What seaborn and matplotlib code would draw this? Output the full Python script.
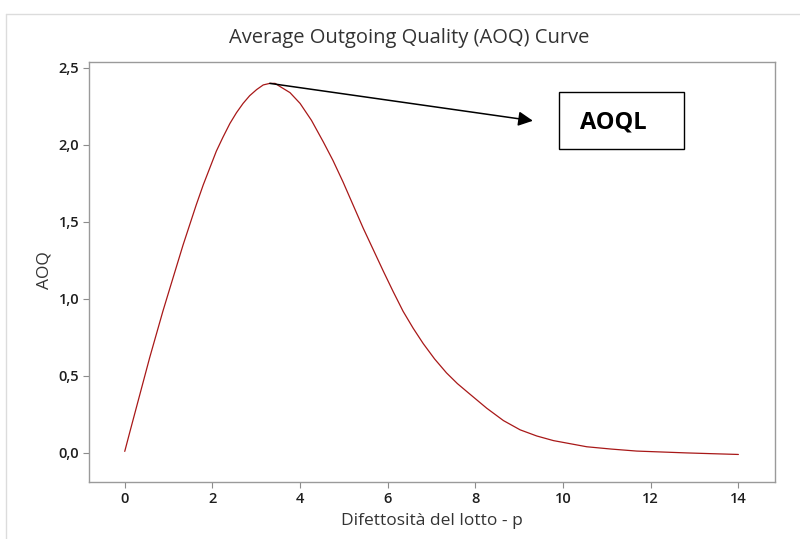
"""Average Outgoing Quality (AOQ) curve with the AOQL marked."""

import matplotlib.pyplot as plt
import matplotlib.ticker as mticker
import pandas as pd
import seaborn as sns
from matplotlib.lines import Line2D
from matplotlib.patches import Rectangle

# Lot defect rate (%) and AOQ
p_values = [0, 0.12, 0.27, 0.42, 0.57, 0.72, 0.87, 1.03, 1.18, 1.33, 1.48, 1.63,
            1.79, 1.94, 2.09, 2.24, 2.40, 2.55, 2.70, 2.85, 3.01, 3.16, 3.31,
            3.43, 3.54, 3.77, 4.0, 4.26, 4.53, 4.75, 4.98, 5.21, 5.44, 5.67,
            5.90, 6.12, 6.35, 6.58, 6.81, 7.07, 7.34, 7.59, 7.84, 8.05, 8.26,
            8.64, 9.02, 9.40, 9.78, 10.16, 10.54, 11.10, 11.68, 12.25, 12.82,
            13.40, 14.0]
aoq_values = [0.01, 0.14, 0.30, 0.46, 0.62, 0.77, 0.92, 1.07, 1.21, 1.35, 1.48, 1.61,
              1.74, 1.85, 1.96, 2.05, 2.14, 2.21, 2.27, 2.32, 2.36, 2.39, 2.40,
              2.40, 2.38, 2.34, 2.27, 2.16, 2.02, 1.90, 1.76, 1.61, 1.46, 1.32,
              1.18, 1.05, 0.92, 0.81, 0.71, 0.61, 0.52, 0.45, 0.39, 0.34, 0.29,
              0.21, 0.15, 0.11, 0.08, 0.06, 0.04, 0.025, 0.012, 0.006, 0.0,
              -0.005, -0.01]

x_ticks = [0, 2, 4, 6, 8, 10, 12, 14]
y_ticks = [0.0, 0.5, 1.0, 1.5, 2.0, 2.5]

title = 'Average Outgoing Quality (AOQ) Curve'
x_label = 'Difettosità del lotto - p'
y_label = 'AOQ'
peak_label = 'AOQL'

sns.set_theme(style='white')
plt.rcParams['font.family'] = ['Open Sans', 'DejaVu Sans']

df = pd.DataFrame({'p': p_values, 'aoq': aoq_values})
peak = df.loc[df['aoq'].idxmax()]

fig = plt.figure(figsize=(8, 5.39), dpi=100)
ax = fig.add_axes([0.111, 0.106, 0.858, 0.779])
sns.lineplot(data=df, x='p', y='aoq', ax=ax, color='#a81818', linewidth=0.9)

ax.set_xlim(-0.82, 14.84)
ax.set_ylim(-0.188, 2.539)
ax.set_xticks(x_ticks)
ax.set_yticks(y_ticks)
ax.yaxis.set_major_formatter(mticker.FuncFormatter(lambda v, _: f'{v:.1f}'.replace('.', ',')))
ax.tick_params(axis='both', which='major', direction='out', length=4, width=0.8,
               color='#8c8c8c', labelsize=10.5, labelcolor='#1e1e1e', pad=3, left=True, bottom=True)
for lbl in ax.get_xticklabels() + ax.get_yticklabels():
    lbl.set_fontweight('semibold')
for spine in ax.spines.values():
    spine.set_color('#9a9a9a')
    spine.set_linewidth(1.0)

ax.set_xlabel(x_label, fontsize=12.5, color='#333333')
ax.set_ylabel(y_label, fontsize=12.5, color='#333333')
ax.xaxis.set_label_coords(0.5, -0.093)
ax.xaxis.label.set_va('center')
ax.yaxis.set_label_coords(-0.064, 0.505)
ax.yaxis.label.set_va('center')
fig.text(0.512, 0.9295, title, ha='center', va='center', fontsize=14.5, color='#333333')

# Arrow from the curve's maximum towards the AOQL box
ax.annotate('', xy=(0.647, 0.860), xycoords='axes fraction',
            xytext=(peak['p'], peak['aoq']), textcoords='data',
            arrowprops=dict(arrowstyle='-|>', color='black', lw=1.1,
                            mutation_scale=22, shrinkA=0, shrinkB=0))
ax.add_patch(Rectangle((0.685, 0.793), 0.182, 0.1357, transform=ax.transAxes,
                       facecolor='white', edgecolor='black', linewidth=1.0))
ax.text(0.764, 0.857, peak_label, transform=ax.transAxes, ha='center', va='center',
        fontsize=17, fontweight='bold', color='black')

# Faint frame around the screenshot
fig.add_artist(Line2D([6 / 800, 6 / 800], [0, 1 - 14 / 539], color='#dcdcdc', lw=1))
fig.add_artist(Line2D([6 / 800, 1], [1 - 14 / 539, 1 - 14 / 539], color='#dcdcdc', lw=1))

fig.savefig('out.png', dpi=100, facecolor='white')
plt.close(fig)
